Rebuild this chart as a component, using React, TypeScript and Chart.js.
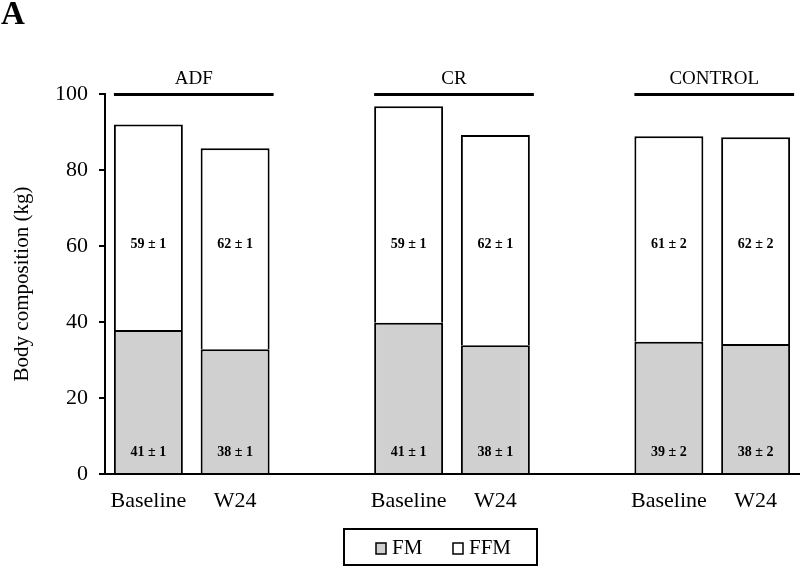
import React, { useEffect, useRef } from "react";
import { Chart, registerables } from "chart.js";

Chart.register(...registerables);

const categories = ["Baseline", "W24", "", "Baseline", "W24", "", "Baseline", "W24"];
const fmValues = [37.9, 32.8, null, 39.8, 33.9, null, 34.8, 34.2];
const ffmValues = [54.1, 52.9, null, 57.0, 55.3, null, 54.1, 54.4];
const ffmLabels = ["59 ± 1", "62 ± 1", "", "59 ± 1", "62 ± 1", "", "61 ± 2", "62 ± 2"];
const fmLabels = ["41 ± 1", "38 ± 1", "", "41 ± 1", "38 ± 1", "", "39 ± 2", "38 ± 2"];
const groupNames = ["ADF", "CR", "CONTROL"];
const groupStarts = [0, 3, 6];
const yTicks = [0, 20, 40, 60, 80, 100];

const SERIF = "'Liberation Serif', 'Times New Roman', serif";
const GRAY = "#d0d0d0";

const overlay = {
  id: "overlay",
  afterDraw(chart: any) {
    const ctx = chart.ctx;
    const x = chart.scales.x;
    const y = chart.scales.y;
    const meta = chart.getDatasetMeta(0);
    ctx.save();
    ctx.fillStyle = "#000";
    // panel letter
    ctx.font = `bold 33px ${SERIF}`;
    ctx.textAlign = "left";
    ctx.textBaseline = "alphabetic";
    ctx.fillText("A", 1, 24);
    // y title
    ctx.save();
    ctx.translate(22, (y.top + y.bottom) / 2);
    ctx.rotate(-Math.PI / 2);
    ctx.font = `21px ${SERIF}`;
    ctx.textAlign = "center";
    ctx.textBaseline = "middle";
    ctx.fillText("Body composition (kg)", 0, 0);
    ctx.restore();
    // group lines & names
    groupNames.forEach((name, gi) => {
      const i0 = groupStarts[gi];
      const b0: any = meta.data[i0];
      const b1: any = meta.data[i0 + 1];
      const left = b0.x - b0.width / 2;
      const right = b1.x + b1.width / 2 + 4;
      const ly = y.getPixelForValue(100) + 0.5;
      ctx.strokeStyle = "#000";
      ctx.lineWidth = 3;
      ctx.beginPath();
      ctx.moveTo(left, ly);
      ctx.lineTo(right, ly);
      ctx.stroke();
      ctx.font = `19px ${SERIF}`;
      ctx.textAlign = "center";
      ctx.textBaseline = "middle";
      ctx.fillText(name, (left + right) / 2, ly - 15);
    });
    // inner labels
    ctx.font = `bold 14px ${SERIF}`;
    ctx.textAlign = "center";
    ctx.textBaseline = "middle";
    categories.forEach((_, i) => {
      const cx = x.getPixelForValue(i);
      if (ffmLabels[i]) ctx.fillText(ffmLabels[i], cx, y.getPixelForValue(60.5));
      if (fmLabels[i]) ctx.fillText(fmLabels[i], cx, y.getPixelForValue(5.8));
    });
    // legend
    const lx = 344, ly2 = 529, lw = 193, lh = 36;
    ctx.fillStyle = "#fff";
    ctx.fillRect(lx, ly2, lw, lh);
    ctx.strokeStyle = "#000";
    ctx.lineWidth = 2;
    ctx.strokeRect(lx, ly2, lw, lh);
    const items = [
      { label: "FM", color: GRAY, sx: 376 },
      { label: "FFM", color: "#fff", sx: 453 },
    ];
    const cy = ly2 + lh / 2 + 1;
    items.forEach((it) => {
      ctx.fillStyle = it.color;
      ctx.fillRect(it.sx, cy - 5, 10, 11);
      ctx.lineWidth = 1.5;
      ctx.strokeRect(it.sx, cy - 5, 10, 11);
      ctx.fillStyle = "#000";
      ctx.font = `21px ${SERIF}`;
      ctx.textAlign = "left";
      ctx.textBaseline = "middle";
      ctx.fillText(it.label, it.sx + 16, cy);
    });
    ctx.restore();
  },
};

export default function App() {
  const ref = useRef<HTMLCanvasElement>(null);
  useEffect(() => {
    if (!ref.current) return;
    const chart = new Chart(ref.current, {
      type: "bar",
      data: {
        labels: categories,
        datasets: [
          {
            label: "FM",
            data: fmValues as any,
            backgroundColor: GRAY,
            borderColor: "#000",
            borderWidth: 2,
            categoryPercentage: 1,
            barPercentage: 0.795,
          },
          {
            label: "FFM",
            data: ffmValues as any,
            backgroundColor: "#fff",
            borderColor: "#000",
            borderWidth: 2,
            categoryPercentage: 1,
            barPercentage: 0.795,
          },
        ],
      },
      options: {
        responsive: false,
        animation: false,
        layout: { padding: { top: 94, right: 1, bottom: 0, left: 0 } },
        plugins: { legend: { display: false }, tooltip: { enabled: false } },
        scales: {
          x: {
            stacked: true,
            grid: { display: false },
            border: { display: true, color: "#000", width: 2 },
            ticks: { color: "#000", font: { family: SERIF, size: 22 }, padding: 6, maxRotation: 0, autoSkip: false },
            afterFit: (s: any) => { s.height = 94; },
          },
          y: {
            stacked: true,
            min: 0,
            max: 100,
            afterBuildTicks: (s: any) => { s.ticks = yTicks.map((v) => ({ value: v })); },
            grid: { drawOnChartArea: false, drawTicks: true, tickLength: 6, color: "#000", lineWidth: 2 },
            border: { display: true, color: "#000", width: 2 },
            ticks: { color: "#000", font: { family: SERIF, size: 22 }, padding: 11 },
            afterFit: (s: any) => { s.width = 105; },
          },
        },
      },
      plugins: [overlay],
    });
    return () => chart.destroy();
  }, []);
  return (
    <div style={{ position: "fixed", left: 0, top: 0, width: 800, height: 568, background: "#fff" }}>
      <canvas ref={ref} width={800} height={568} />
    </div>
  );
}
